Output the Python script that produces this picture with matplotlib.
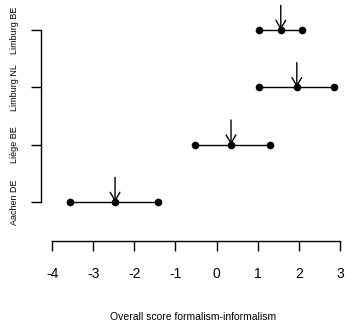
import matplotlib.pyplot as plt

regions = ["Aachen DE", "Liège BE", "Limburg NL", "Limburg BE"]
lower = [-3.57, -0.53, 1.03, 1.04]
mean = [-2.47, 0.35, 1.95, 1.56]
upper = [-1.43, 1.30, 2.86, 2.08]
xticks = [-4, -3, -2, -1, 0, 1, 2, 3]

plt.rcParams['font.family'] = ['Liberation Sans', 'DejaVu Sans']

W, H = 346, 327
fig = plt.figure(figsize=(W / 100, H / 100), dpi=100)
# axes placed in pixel terms: left spine at x=41, bottom spine at y=240.7
ax = fig.add_axes([41 / W, (H - 240.7) / H, (W - 41) / W, 240.7 / H])
ax.set_xlim(-4.27, 3.146)
ax.set_ylim(0.325, 4.523)

ypos = [1, 2, 3, 4]
for y, lo, m, hi in zip(ypos, lower, mean, upper):
    ax.plot([lo, hi], [y, y], color='black', lw=1)
    ax.plot([lo, m, hi], [y, y, y], 'o', color='black', ms=4.5)
    ax.annotate('', xy=(m, y), xytext=(m, y + 0.43),
                arrowprops=dict(arrowstyle='->,head_length=0.6,head_width=0.35',
                                color='black', lw=1, shrinkA=0, shrinkB=0))

for s in ['top', 'right']:
    ax.spines[s].set_visible(False)
ax.spines['left'].set_bounds(1, 4)
ax.spines['bottom'].set_bounds(-4, 3)
ax.spines['left'].set_linewidth(1)
ax.spines['bottom'].set_linewidth(1)

ax.set_yticks(ypos)
ax.set_yticklabels(regions, rotation=90, va='center', fontsize=6.5)
ax.set_xticks(xticks)
ax.set_xticklabels([str(t) for t in xticks], fontsize=10)
ax.tick_params(axis='both', direction='out', length=7, width=1)
ax.tick_params(axis='x', pad=12)
ax.tick_params(axis='y', pad=9)

ax.set_xlabel("Overall score formalism-informalism", fontsize=7.5, labelpad=22)
ax.patch.set_alpha(0)

fig.savefig("out.png", dpi=100)
